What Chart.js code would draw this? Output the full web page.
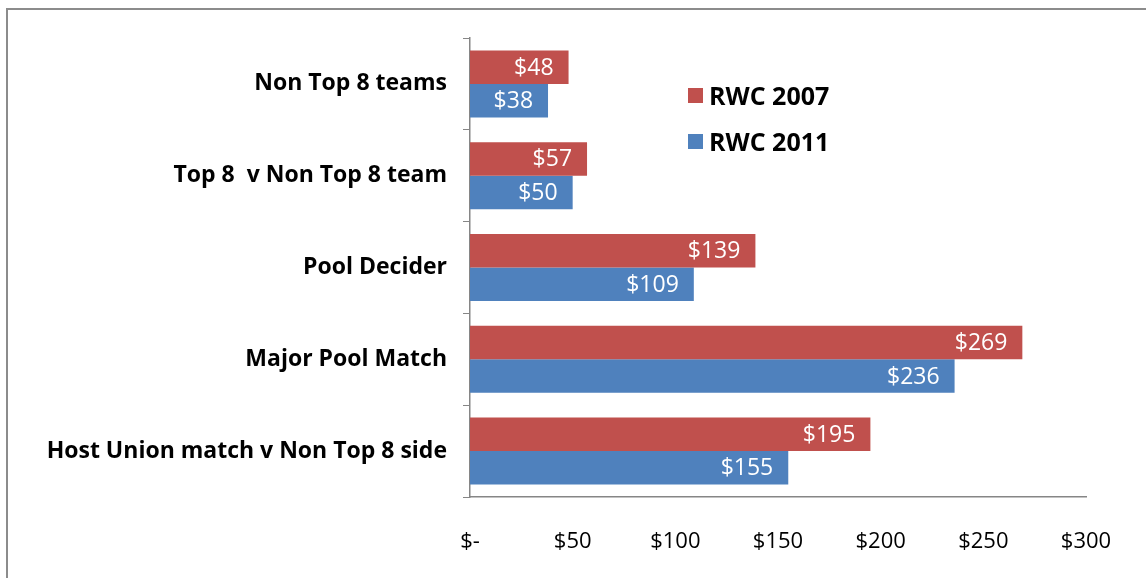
<!DOCTYPE html>
<html>
<head>
<meta charset="utf-8">
<script src="https://cdn.jsdelivr.net/npm/chart.js@4"></script>
<style>
  html, body { margin: 0; padding: 0; background: #fff; }
  #wrap { position: relative; width: 1146px; height: 578px; overflow: hidden; }
  #frame { position: absolute; left: 6px; top: 8px; width: 1160px; height: 600px; border: 2px solid #8c8c8c; box-sizing: border-box; }
  #legend { position: absolute; left: 688px; top: 72px; font-family: "Open Sans", sans-serif; font-weight: bold; font-size: 25px; color: #000; }
  .item { display: flex; align-items: center; height: 46px; }
  .sw { width: 15px; height: 15px; margin-right: 6px; }
</style>
</head>
<body>
<div id="wrap">
  <div id="frame"></div>
  <canvas id="chart" width="1146" height="578"></canvas>
  <div id="legend">
    <div class="item"><div class="sw" style="background:#C0504D"></div>RWC 2007</div>
    <div class="item"><div class="sw" style="background:#4F81BD"></div>RWC 2011</div>
  </div>
</div>
<script>
// === DATA ===
const categories = ["Non Top 8 teams", "Top 8  v Non Top 8 team", "Pool Decider", "Major Pool Match", "Host Union match v Non Top 8 side"];
const rwc2007 = [48, 57, 139, 269, 195];
const rwc2011 = [38, 50, 109, 236, 155];
const tickLabels = ["$-", "$50", "$100", "$150", "$200", "$250", "$300"];

const FONT = "'Open Sans', sans-serif";

// white value labels inside bar ends
const valueLabels = {
  id: "valueLabels",
  afterDatasetsDraw(chart) {
    const ctx = chart.ctx;
    ctx.save();
    ctx.font = "23px " + FONT;
    ctx.fillStyle = "#fff";
    ctx.textAlign = "right";
    ctx.textBaseline = "middle";
    chart.data.datasets.forEach((ds, i) => {
      chart.getDatasetMeta(i).data.forEach((bar, j) => {
        ctx.fillText("$" + ds.data[j], bar.x - 15, bar.y + 1);
      });
    });
    ctx.restore();
  }
};

new Chart(document.getElementById("chart"), {
  type: "bar",
  data: {
    labels: categories,
    datasets: [
      { label: "RWC 2007", data: rwc2007, backgroundColor: "#C0504D" },
      { label: "RWC 2011", data: rwc2011, backgroundColor: "#4F81BD" }
    ]
  },
  options: {
    indexAxis: "y",
    responsive: false,
    animation: false,
    layout: { padding: { top: 38, right: 60, left: 0, bottom: 0 } },
    datasets: { bar: { barPercentage: 1, categoryPercentage: 0.73 } },
    plugins: { legend: { display: false }, tooltip: { enabled: false } },
    scales: {
      x: {
        min: 0, max: 300,
        ticks: {
          stepSize: 50,
          color: "#000",
          font: { family: FONT, size: 22 },
          padding: 25,
          callback: (v, i) => tickLabels[i]
        },
        grid: { display: false, drawTicks: true, tickLength: 7, color: "#868686" },
        border: { color: "#868686", width: 1.5 },
        afterFit: s => { s.height = 578 - 497; }
      },
      y: {
        ticks: {
          color: "#000",
          font: { family: FONT, size: 23, weight: "bold" },
          padding: 16
        },
        grid: { display: true, offset: true, drawOnChartArea: false, tickLength: 7, color: "#868686" },
        border: { color: "#868686", width: 1.5 },
        afterFit: s => { s.width = 470; }
      }
    }
  },
  plugins: [valueLabels]
});
</script>
</body>
</html>
